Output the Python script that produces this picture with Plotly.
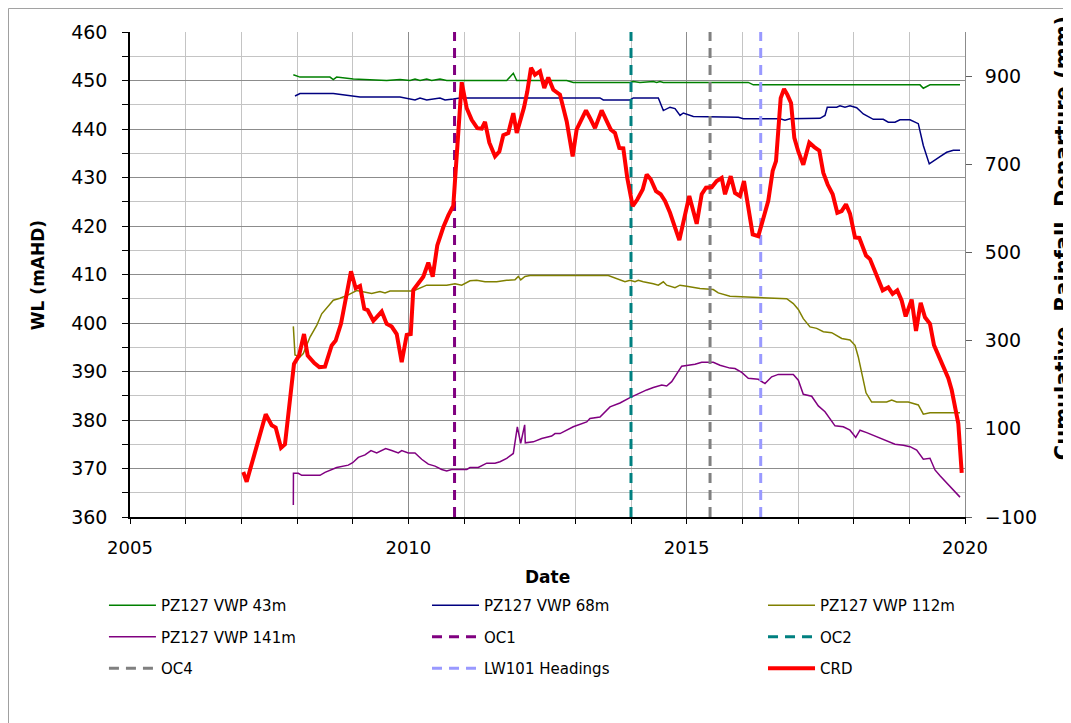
import plotly.graph_objects as go

# decimal years
crd_year = [2007.035, 2007.096, 2007.438, 2007.545, 2007.617, 2007.713, 2007.784, 2007.946, 2008.036, 2008.126,
            2008.192, 2008.311, 2008.401, 2008.503, 2008.623, 2008.695, 2008.790, 2008.875, 2008.970, 2009.054,
            2009.132, 2009.209, 2009.270, 2009.371, 2009.522, 2009.611, 2009.701, 2009.791, 2009.820, 2009.881,
            2009.971, 2010.043, 2010.089, 2010.179, 2010.269, 2010.359, 2010.438, 2010.520, 2010.628, 2010.718,
            2010.808, 2010.959, 2011.049, 2011.138, 2011.239, 2011.318, 2011.377, 2011.455, 2011.557, 2011.635,
            2011.706, 2011.796, 2011.886, 2011.947, 2012.078, 2012.137, 2012.204, 2012.275, 2012.365, 2012.442,
            2012.514, 2012.604, 2012.724, 2012.845, 2012.952, 2013.024, 2013.114, 2013.191, 2013.263, 2013.353,
            2013.473, 2013.563, 2013.635, 2013.712, 2013.790, 2013.862, 2013.933, 2014.030, 2014.113, 2014.210,
            2014.282, 2014.354, 2014.449, 2014.533, 2014.611, 2014.701, 2014.778, 2014.868, 2014.952, 2015.047,
            2015.180, 2015.270, 2015.347, 2015.450, 2015.539, 2015.629, 2015.689, 2015.791, 2015.868, 2015.958,
            2016.030, 2016.107, 2016.186, 2016.287, 2016.377, 2016.466, 2016.545, 2016.605, 2016.689, 2016.749,
            2016.808, 2016.875, 2016.934, 2017.005, 2017.095, 2017.203, 2017.293, 2017.383, 2017.454, 2017.533,
            2017.623, 2017.706, 2017.784, 2017.862, 2017.934, 2018.024, 2018.101, 2018.222, 2018.293, 2018.383,
            2018.522, 2018.622, 2018.700, 2018.783, 2018.862, 2018.934, 2019.042, 2019.120, 2019.204, 2019.281,
            2019.371, 2019.443, 2019.520, 2019.610, 2019.700, 2019.761, 2019.820, 2019.880, 2019.941]
crd = [2, -20, 133, 108, 103, 57, 65, 247, 266, 315,
       266, 249, 240, 241, 289, 300, 338, 390, 457, 419,
       424, 372, 369, 345, 366, 338, 332, 315, 294, 251,
       313, 315, 415, 430, 445, 477, 445, 516, 557, 584,
       606, 886, 827, 801, 782, 781, 796, 749, 718, 729,
       766, 771, 816, 771, 829, 865, 919, 903, 911, 873,
       897, 869, 858, 797, 718, 779, 805, 822, 805, 782,
       822, 799, 779, 771, 737, 736, 669, 605, 620, 643,
       677, 666, 639, 632, 617, 590, 564, 528, 575, 628,
       565, 632, 647, 648, 662, 669, 632, 673, 635, 628,
       662, 598, 541, 537, 579, 617, 685, 707, 850, 871,
       858, 839, 760, 729, 699, 749, 739, 731, 681, 654,
       632, 590, 594, 609, 588, 534, 533, 493, 485, 459,
       414, 421, 406, 414, 391, 355, 393, 322, 386, 353,
       338, 290, 267, 237, 215, 188, 150, 112, 0]

vwp43_year = [2007.934, 2008.054, 2008.592, 2008.652, 2008.712, 2009.011, 2009.611, 2009.850, 2010.030, 2010.120,
              2010.210, 2010.330, 2010.420, 2010.569, 2010.689, 2011.767, 2011.886, 2011.947, 2012.845, 2012.964,
              2013.982, 2014.042, 2014.161, 2014.401, 2014.461, 2014.521, 2014.581, 2016.107, 2016.197, 2019.192,
              2019.251, 2019.371, 2019.910]
vwp43 = [451.2, 450.7, 450.7, 450.2, 450.7, 450.3, 450.0, 450.2, 450.0, 450.3,
         450.0, 450.3, 450.0, 450.3, 450.0, 450.0, 451.5, 450.0, 450.0, 449.6,
         449.6, 449.8, 449.6, 449.8, 449.6, 449.8, 449.6, 449.6, 449.1, 449.1,
         448.4, 449.1, 449.1]

vwp68_year = [2007.964, 2008.054, 2008.652, 2009.011, 2009.132, 2009.850, 2010.030, 2010.120, 2010.210, 2010.330,
              2010.569, 2010.659, 2010.808, 2010.928, 2012.006, 2013.443, 2013.502, 2013.982, 2014.042, 2014.491,
              2014.581, 2014.701, 2014.791, 2014.881, 2014.940, 2015.120, 2015.928, 2016.018, 2016.677, 2016.766,
              2016.856, 2017.395, 2017.485, 2017.526, 2017.695, 2017.754, 2017.844, 2017.934, 2018.054, 2018.173,
              2018.353, 2018.532, 2018.622, 2018.742, 2018.832, 2019.012, 2019.161, 2019.251, 2019.358, 2019.430,
              2019.551, 2019.671, 2019.790, 2019.910]
vwp68 = [446.8, 447.3, 447.3, 446.8, 446.6, 446.6, 446.2, 446.0, 446.4, 446.0,
         446.4, 446.0, 446.2, 446.4, 446.4, 446.4, 446.0, 446.0, 446.4, 446.4,
         443.8, 444.5, 444.2, 442.8, 443.3, 442.6, 442.4, 442.1, 442.1, 441.8,
         442.1, 442.2, 442.8, 444.5, 444.5, 444.8, 444.5, 444.8, 444.4, 443.1,
         442.0, 442.0, 441.4, 441.4, 441.9, 441.9, 441.1, 436.6, 432.8, 433.3,
         434.3, 435.2, 435.6, 435.6]

vwp112_year = [2007.934, 2007.964, 2008.054, 2008.113, 2008.234, 2008.354, 2008.444, 2008.652, 2008.772, 2008.921,
               2009.072, 2009.222, 2009.342, 2009.491, 2009.581, 2009.671, 2010.089, 2010.330, 2010.689, 2010.838,
               2010.959, 2011.108, 2011.228, 2011.377, 2011.587, 2011.767, 2011.916, 2011.976, 2012.019, 2012.096,
               2012.186, 2013.593, 2013.743, 2013.892, 2013.982, 2014.072, 2014.131, 2014.221, 2014.401, 2014.491,
               2014.581, 2014.641, 2014.790, 2014.880, 2015.000, 2015.119, 2015.239, 2015.478, 2015.568, 2015.778,
               2016.646, 2016.797, 2016.916, 2017.006, 2017.095, 2017.216, 2017.336, 2017.455, 2017.605, 2017.785,
               2017.934, 2018.024, 2018.083, 2018.144, 2018.222, 2018.324, 2018.593, 2018.683, 2018.773, 2018.981,
               2019.161, 2019.251, 2019.371, 2019.910]
vwp112 = [399.3, 393.4, 393.0, 393.7, 397.1, 399.5, 401.9, 404.7, 405.1, 405.8,
          406.7, 406.4, 406.1, 406.5, 406.2, 406.6, 406.6, 407.8, 407.8, 408.1,
          407.8, 408.7, 408.8, 408.5, 408.5, 408.8, 408.9, 409.6, 408.9, 409.6,
          409.8, 409.8, 409.2, 408.5, 408.8, 408.5, 408.8, 408.5, 408.1, 407.8,
          408.5, 407.8, 407.3, 407.8, 407.6, 407.3, 407.1, 406.9, 406.2, 405.5,
          405.0, 405.0, 404.0, 402.8, 400.9, 399.2, 398.9, 398.2, 398.0, 396.8,
          396.5, 395.4, 393.0, 389.6, 385.6, 383.7, 383.7, 384.1, 383.7, 383.7,
          383.1, 381.2, 381.5, 381.5]

vwp141_year = [2007.934, 2007.936, 2008.024, 2008.085, 2008.413, 2008.503, 2008.713, 2008.921, 2009.000, 2009.101,
               2009.222, 2009.329, 2009.432, 2009.593, 2009.701, 2009.820, 2009.881, 2010.000, 2010.120, 2010.240,
               2010.359, 2010.479, 2010.599, 2010.689, 2010.779, 2011.049, 2011.108, 2011.257, 2011.408, 2011.557,
               2011.647, 2011.767, 2011.886, 2011.958, 2012.019, 2012.090, 2012.101, 2012.245, 2012.396, 2012.575,
               2012.635, 2012.725, 2012.963, 2013.204, 2013.263, 2013.443, 2013.623, 2013.802, 2013.982, 2014.102,
               2014.282, 2014.401, 2014.552, 2014.641, 2014.731, 2014.911, 2015.029, 2015.150, 2015.270, 2015.478,
               2015.599, 2015.778, 2015.868, 2015.989, 2016.107, 2016.287, 2016.407, 2016.527, 2016.646, 2016.916,
               2017.006, 2017.095, 2017.246, 2017.365, 2017.485, 2017.544, 2017.665, 2017.814, 2017.934, 2018.037,
               2018.114, 2018.234, 2018.414, 2018.593, 2018.742, 2018.892, 2019.012, 2019.132, 2019.251, 2019.371,
               2019.461, 2019.551, 2019.910]
vwp141 = [362.5, 369.0, 369.0, 368.6, 368.6, 369.2, 370.2, 370.7, 371.2, 372.3,
          372.8, 373.7, 373.2, 374.1, 373.7, 373.2, 373.7, 373.2, 373.2, 371.9,
          370.9, 370.5, 369.8, 369.5, 369.8, 369.8, 370.2, 370.2, 371.1, 371.1,
          371.4, 372.1, 373.1, 378.6, 375.2, 379.0, 375.3, 375.5, 376.2, 376.7,
          377.2, 377.2, 378.6, 379.6, 380.3, 380.6, 382.7, 383.5, 384.6, 385.3,
          386.2, 386.7, 387.2, 387.0, 387.9, 391.1, 391.3, 391.5, 391.9, 391.9,
          391.3, 390.7, 390.6, 389.8, 388.6, 388.4, 387.5, 388.9, 389.4, 389.4,
          388.2, 385.3, 384.9, 382.9, 381.7, 380.7, 378.8, 378.6, 377.9, 376.4,
          377.9, 377.4, 376.5, 375.7, 375.0, 374.8, 374.5, 373.8, 371.9, 372.1,
          369.7, 368.5, 364.1]

event_names = ["OC1", "OC2", "OC4", "LW101 Headings"]
event_year = [2010.83, 2014.0, 2015.42, 2016.33]
event_colors = ["#800080", "#008080", "#808080", "#9999ff"]

FONT = "DejaVu Sans"

fig = go.Figure()

# (name, x, y, colour, legend column)
series = [
    ("PZ127 VWP 43m", vwp43_year, vwp43, "#008000", "legend"),
    ("PZ127 VWP 68m", vwp68_year, vwp68, "#000080", "legend2"),
    ("PZ127 VWP 112m", vwp112_year, vwp112, "#808000", "legend3"),
    ("PZ127 VWP 141m", vwp141_year, vwp141, "#800080", "legend"),
]
for name, xs, ys, col, lg in series:
    fig.add_trace(go.Scatter(x=xs, y=ys, name=name, mode="lines", legendgroup=name,
                             line=dict(color=col, width=1.5), legend=lg))

ev_legend = ["legend2", "legend3", "legend", "legend2"]
for name, yr, col, lg in zip(event_names, event_year, event_colors, ev_legend):
    fig.add_trace(go.Scatter(x=[yr, yr], y=[360, 460], name=name, mode="lines", legendgroup=name,
                             line=dict(color=col, width=3, dash="10px,7px"), legend=lg))

fig.add_trace(go.Scatter(x=crd_year, y=crd, name="CRD", mode="lines", yaxis="y2", legendgroup="CRD",
                         line=dict(color="#ff0000", width=4), legend="legend3"))

# one legend per column
leg = dict(orientation="v", y=-0.1485, yanchor="top", xanchor="left", bgcolor="rgba(0,0,0,0)",
           font=dict(family=FONT, size=15, color="black"), traceorder="grouped",
           tracegroupgap=9, itemwidth=47)

fig.update_layout(
    width=1071, height=723,
    margin=dict(l=122, r=114, t=24, b=214),
    paper_bgcolor="white", plot_bgcolor="white",
    font=dict(family=FONT, color="black"),
    showlegend=True,
    legend=dict(leg, x=-0.0312),
    legend2=dict(leg, x=0.3557),
    legend3=dict(leg, x=0.7581),
    xaxis=dict(range=[2005, 2020], tick0=2005, dtick=5, ticks="outside", ticklen=5, tickcolor="black",
               showline=True, linecolor="black", linewidth=1.5, showgrid=True, gridcolor="#8c8c8c",
               gridwidth=1, zeroline=False, tickfont=dict(size=18), ticklabelstandoff=9,
               minor=dict(dtick=1, tick0=2005, ticks="outside", ticklen=5, tickcolor="black",
                          showgrid=True, gridcolor="#c4c4c4", gridwidth=1)),
    yaxis=dict(range=[360, 460], tick0=360, dtick=10, ticks="outside", ticklen=6, tickcolor="black",
               showline=True, linecolor="black", linewidth=1.5, showgrid=True, gridcolor="#8c8c8c",
               zeroline=False, tickfont=dict(size=19), ticklabelstandoff=11,
               minor=dict(dtick=5, tick0=360, ticks="outside", ticklen=6, tickcolor="black",
                          showgrid=True, gridcolor="#c4c4c4")),
    yaxis2=dict(range=[-100, 1000], tick0=-100, dtick=200, overlaying="y", side="right",
                ticks="outside", ticklen=6, tickcolor="#606060", showline=True, linecolor="#8c8c8c",
                showgrid=False, zeroline=False, tickfont=dict(size=19), ticklabelstandoff=9),
    annotations=[
        dict(text="<b>Date</b>", x=0.5, y=-0.124, xref="paper", yref="paper", showarrow=False,
             xanchor="center", yanchor="middle", font=dict(size=17)),
        dict(text="<b>WL (mAHD)</b>", x=-0.110, y=0.499, xref="paper", yref="paper", showarrow=False,
             textangle=-90, xanchor="center", yanchor="middle", font=dict(size=17)),
        dict(text="<b>Cumulative  Rainfall  Departure (mm)</b>", x=1.1174, y=0.575, xref="paper",
             yref="paper", showarrow=False, textangle=-90, xanchor="center", yanchor="middle",
             font=dict(size=21)),
    ],
    shapes=[dict(type="rect", xref="paper", yref="paper", x0=-0.1455, x1=1.15, y0=-0.45, y1=1.0485,
                 line=dict(color="#a0a0a0", width=1), fillcolor="rgba(0,0,0,0)", layer="below")],
)

fig.write_html("out.html")
